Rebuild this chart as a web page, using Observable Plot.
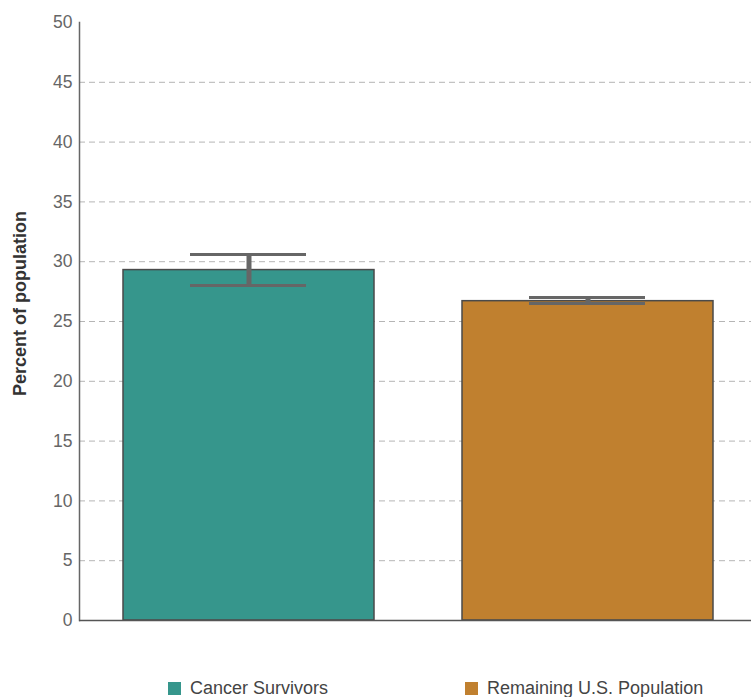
<!DOCTYPE html>
<html>
<head>
<meta charset="utf-8">
<script src="https://cdn.jsdelivr.net/npm/d3@7"></script>
<script src="https://cdn.jsdelivr.net/npm/@observablehq/plot@0.6"></script>
<style>
  body { margin: 0; background: #fff; font-family: "Liberation Sans", Arial, sans-serif; }
  #legend { display: flex; justify-content: flex-start; gap: 137px; padding-left: 168px; padding-top: 27px; font-size: 18px; color: #444; line-height: 22px; }
  #legend .item { display: flex; align-items: center; }
  #legend .sw { width: 13px; height: 13px; margin-right: 9px; }
</style>
</head>
<body>
<div id="chart"></div>
<div id="legend"></div>
<script>
const categories = ["Cancer Survivors", "Remaining U.S. Population"];
const values = [29.3, 26.7];
const lower = [28.0, 26.5];
const upper = [30.6, 27.0];
const colors = ["#36968c", "#c0802f"];
const yTicks = [0, 5, 10, 15, 20, 25, 30, 35, 40, 45, 50];
const gridTicks = [5, 10, 15, 20, 25, 30, 35, 40, 45];

const data = categories.map((c, i) => ({ category: c, value: values[i], lo: lower[i], hi: upper[i] }));

const chart = Plot.plot({
  width: 751,
  height: 650,
  marginTop: 22,
  marginBottom: 30,
  marginLeft: 79,
  marginRight: 0,
  style: { fontFamily: "Liberation Sans, Arial, sans-serif", fontSize: "17.5px", color: "#666" },
  x: { domain: categories, range: [79, 757], paddingInner: 0.26, paddingOuter: 0.13, axis: null },
  y: { domain: [0, 50], ticks: yTicks, tickSize: 0, tickPadding: 7, label: null },
  color: { domain: categories, range: colors },
  marks: [
    Plot.ruleY(gridTicks, { stroke: "#b5b5b5", strokeDasharray: "6,4", strokeWidth: 1 }),
    Plot.barY(data, { x: "category", y: "value", fill: "category", stroke: "#4a4a4a", strokeWidth: 1.5 }),
    Plot.ruleX(data, { x: "category", y1: "lo", y2: "hi", stroke: "#666", strokeWidth: 5 }),
    Plot.tickY(data, { x: "category", y: "hi", stroke: "#666", strokeWidth: 3, insetLeft: 67, insetRight: 68 }),
    Plot.tickY(data, { x: "category", y: "lo", stroke: "#666", strokeWidth: 3, insetLeft: 67, insetRight: 68 }),
    Plot.frame({ anchor: "left", stroke: "#666", strokeWidth: 1.5 }),
    Plot.ruleY([0], { stroke: "#555", strokeWidth: 1.5 }),
    Plot.text(["Percent of population"], { frameAnchor: "left", rotate: -90, textAnchor: "middle", dx: -59, dy: -18, fontWeight: "bold", fontSize: 18, fill: "#333" })
  ]
});
document.getElementById("chart").appendChild(chart);

const legend = document.getElementById("legend");
categories.forEach((c, i) => {
  const item = document.createElement("div");
  item.className = "item";
  const sw = document.createElement("span");
  sw.className = "sw";
  sw.style.background = colors[i];
  const t = document.createElement("span");
  t.textContent = c;
  item.appendChild(sw);
  item.appendChild(t);
  legend.appendChild(item);
});
</script>
</body>
</html>
